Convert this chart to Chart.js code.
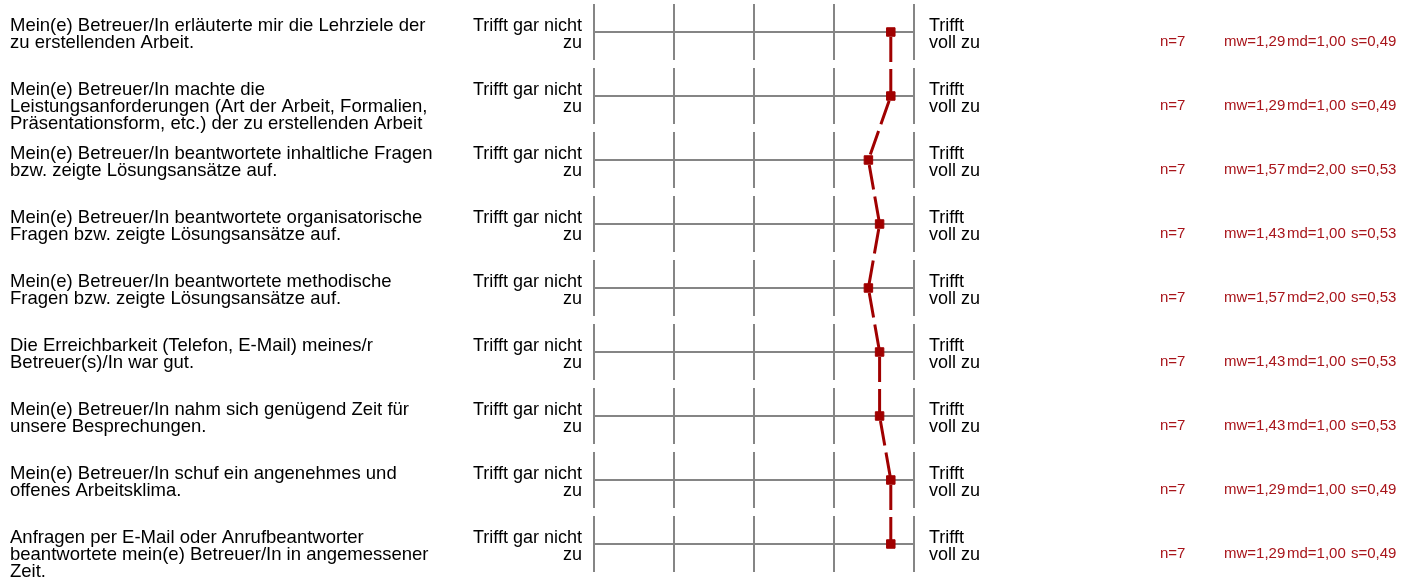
<!DOCTYPE html>
<html lang="de">
<head>
<meta charset="UTF-8">
<title>Betreuung</title>
<script src="https://cdn.jsdelivr.net/npm/chart.js"></script>
<style>
    html, body { margin: 0; padding: 0; background: #fff; }
    #profil { display: block; }
</style>
</head>
<body>
<canvas id="profil" width="1415" height="583"></canvas>
<script>
    // Fragen (links), je Zeile als Array von Textzeilen
    var fragen = [
        ['Mein(e) Betreuer/In erläuterte mir die Lehrziele der', 'zu erstellenden Arbeit.'],
        ['Mein(e) Betreuer/In machte die', 'Leistungsanforderungen (Art der Arbeit, Formalien,', 'Präsentationsform, etc.) der zu erstellenden Arbeit'],
        ['Mein(e) Betreuer/In beantwortete inhaltliche Fragen', 'bzw. zeigte Lösungsansätze auf.'],
        ['Mein(e) Betreuer/In beantwortete organisatorische', 'Fragen bzw. zeigte Lösungsansätze auf.'],
        ['Mein(e) Betreuer/In beantwortete methodische', 'Fragen bzw. zeigte Lösungsansätze auf.'],
        ['Die Erreichbarkeit (Telefon, E-Mail) meines/r', 'Betreuer(s)/In war gut.'],
        ['Mein(e) Betreuer/In nahm sich genügend Zeit für', 'unsere Besprechungen.'],
        ['Mein(e) Betreuer/In schuf ein angenehmes und', 'offenes Arbeitsklima.'],
        ['Anfragen per E-Mail oder Anrufbeantworter', 'beantwortete mein(e) Betreuer/In in angemessener', 'Zeit.']
    ];
    var polLinks = ['Trifft gar nicht', 'zu'];
    var polRechts = ['Trifft', 'voll zu'];
    var skala = [1, 2, 3, 4, 5];

    var anzahl = [7, 7, 7, 7, 7, 7, 7, 7, 7];
    var mittelwert = [1.29, 1.29, 1.57, 1.43, 1.57, 1.43, 1.43, 1.29, 1.29];
    var median = [1.00, 1.00, 2.00, 1.00, 2.00, 1.00, 1.00, 1.00, 1.00];
    var streuung = [0.49, 0.49, 0.53, 0.53, 0.53, 0.53, 0.53, 0.49, 0.49];

    var rot = '#a00000';
    var grau = '#858585';
    var schrift = '"Liberation Sans", Arial, sans-serif';

    function komma(v) {
        return v.toFixed(2).replace('.', ',');
    }

    const rasterPlugin = {
        id: 'raster',
        beforeDatasetsDraw(chart) {
            const ctx = chart.ctx;
            const xs = chart.scales.x;
            const ys = chart.scales.y;
            const area = chart.chartArea;
            ctx.save();
            ctx.strokeStyle = grau;
            ctx.lineWidth = 2;
            for (let i = 0; i < fragen.length; i++) {
                const yc = Math.round(ys.getPixelForValue(i));
                const halb = Math.abs(ys.getPixelForValue(i + 0.5) - yc) - 4;
                ctx.beginPath();
                ctx.moveTo(area.left, yc);
                ctx.lineTo(area.right, yc);
                skala.forEach(function (v) {
                    const x = Math.round(xs.getPixelForValue(v));
                    ctx.moveTo(x, yc - halb);
                    ctx.lineTo(x, yc + halb);
                });
                ctx.stroke();
            }
            ctx.restore();
        },
        afterDraw(chart) {
            const ctx = chart.ctx;
            const xs = chart.scales.x;
            const ys = chart.scales.y;
            const links = xs.getPixelForValue(5);
            const rechts = xs.getPixelForValue(1);
            ctx.save();
            ctx.textBaseline = 'alphabetic';
            for (let i = 0; i < fragen.length; i++) {
                const yc = ys.getPixelForValue(i) - 1;
                ctx.fillStyle = '#000';
                ctx.font = '18.5px ' + schrift;
                ctx.textAlign = 'left';
                fragen[i].forEach(function (z, k) {
                    ctx.fillText(z, 10, yc + k * 17);
                });
                ctx.font = '18px ' + schrift;
                ctx.textAlign = 'right';
                polLinks.forEach(function (z, k) {
                    ctx.fillText(z, links - 12, yc + k * 17);
                });
                ctx.textAlign = 'left';
                polRechts.forEach(function (z, k) {
                    ctx.fillText(z, rechts + 15, yc + k * 17);
                });
                ctx.fillStyle = '#a8141a';
                ctx.font = '15px ' + schrift;
                ctx.fillText('n=' + anzahl[i], 1160, yc + 15);
                ctx.fillText('mw=' + komma(mittelwert[i]), 1224, yc + 15);
                ctx.fillText('md=' + komma(median[i]), 1287, yc + 15);
                ctx.fillText('s=' + komma(streuung[i]), 1351, yc + 15);
            }
            ctx.restore();
        }
    };

    const chart = new Chart('profil', {
        type: 'line',
        data: {
            datasets: [{
                label: 'Mittelwert',
                data: mittelwert.map(function (m, i) { return { x: m, y: i }; }),
                borderColor: rot,
                backgroundColor: rot,
                borderWidth: 3,
                borderDash: [25, 7],
                borderDashOffset: 27,
                segment: {
                    // jede Teilstrecke eigenständig stricheln
                    borderDashOffset: function (c) { return 27 + c.p0DataIndex * 1e-6; }
                },
                pointStyle: 'rect',
                pointRadius: 6,
                pointBorderWidth: 1,
                pointBorderColor: rot,
                pointBackgroundColor: rot,
                tension: 0,
                clip: false
            }]
        },
        options: {
            responsive: false,
            animation: false,
            devicePixelRatio: 1,
            layout: { autoPadding: false, padding: { left: 594, right: 501, top: 0, bottom: 7 } },
            scales: {
                x: { type: 'linear', min: 1, max: 5, reverse: true, display: false },
                y: { type: 'linear', min: -0.5, max: 8.5, reverse: true, display: false }
            },
            plugins: {
                legend: { display: false },
                tooltip: { enabled: false }
            }
        },
        plugins: [rasterPlugin]
    });
</script>
</body>
</html>
